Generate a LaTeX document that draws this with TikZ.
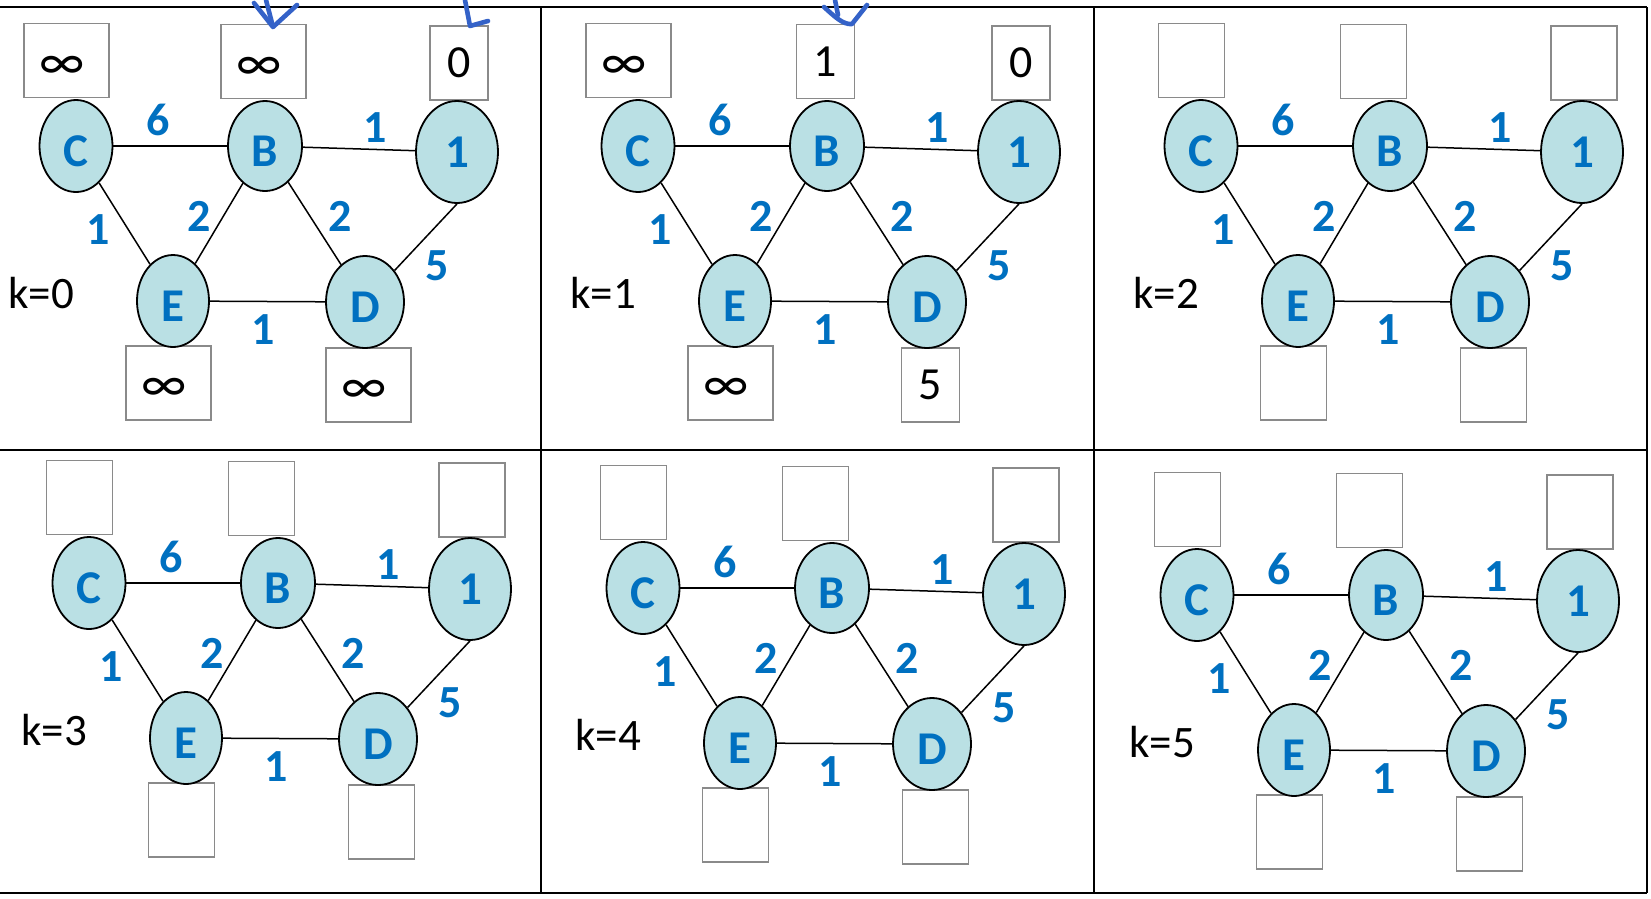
\documentclass[tikz,border=0pt]{standalone}
\usepackage{fontspec}
\setmainfont{Carlito}
\usetikzlibrary{shapes.geometric}

\definecolor{nodefill}{RGB}{186,224,228}
\definecolor{labelblue}{RGB}{0,112,192}
\definecolor{penblue}{RGB}{52,98,200}
\definecolor{boxgray}{RGB}{138,138,138}

\newcommand\infsym{{\fontsize{53}{53}\selectfont ∞}}

\tikzset{
  vert/.style={ellipse, draw=black, line width=1.8pt, fill=nodefill, inner sep=0pt,
    text=labelblue, font=\fontsize{47}{47}\selectfont\bfseries},
  lowtext/.style={text height=40pt, text depth=0pt},
  wt/.style={text=labelblue, font=\fontsize{46}{46}\selectfont\bfseries, inner sep=0pt},
  klabel/.style={font=\fontsize{45}{45}\selectfont, inner sep=0pt},
  valbox/.style={rectangle, draw=boxgray, line width=1.8pt, fill=white,
    minimum height=74pt, inner sep=0pt, font=\fontsize{46}{46}\selectfont},
  emptybox/.style={valbox, minimum width=66pt, node contents={}},
  infbox/.style={valbox, minimum width=85pt, text height=37pt, text depth=0pt,
    node contents={\hspace*{-8pt}\infsym}},
  digbox/.style={valbox, minimum width=58pt, node contents={#1}},
  link/.style={line width=1.5pt},
  panelline/.style={line width=2.5pt},
  pen/.style={draw=penblue, line width=4.6pt, line cap=round, line join=round},
}

% one graph panel: prefix, x offset, y offset, k, then the five value boxes (C, B, 1, E, D)
\newcommand\graphpanel[9]{%
  \begin{scope}[shift={(#2,#3)}]
    \node (#1bC) at (66.5,60.5) [#5];
    \node (#1bB) at (263.5,61.5) [#6];
    \node (#1bone) at (459,63) [#7];
    \node (#1bE) at (168.5,383) [#8];
    \node (#1bD) at (368.5,385) [#9];
    \node[vert, lowtext, minimum width=73pt, minimum height=92pt] (#1C) at (76,146) {C};
    \node[vert, lowtext, minimum width=74pt, minimum height=90pt] (#1B) at (265,146) {B};
    \node[vert, minimum width=82pt, minimum height=102pt] (#1one) at (457,152) {1};
    \node[vert, lowtext, minimum width=72pt, minimum height=92pt] (#1E) at (173,301) {E};
    \node[vert, lowtext, minimum width=78pt, minimum height=92pt] (#1D) at (365,302) {D};
    \draw[link] (#1C) -- (#1B);
    \draw[link] (#1B) -- (#1one);
    \draw[link] (#1C) -- (#1E);
    \draw[link] (#1E) -- (#1B);
    \draw[link] (#1B) -- (#1D);
    \draw[link] (#1E) -- (#1D);
    \draw[link] (#1one.south) -- (#1D);
    \node[wt] (#1wCB) at (158,120) {6};
    \node[wt] (#1wBone) at (375,128) {1};
    \node[wt] (#1wCE) at (98,230) {1};
    \node[wt] (#1wEB) at (199,216) {2};
    \node[wt] (#1wBD) at (340,216) {2};
    \node[wt] (#1wDone) at (437,266) {5};
    \node[wt] (#1wED) at (263,330) {1};
    \node[klabel] (#1k) at (41,293) {k=#4};
  \end{scope}}

\begin{document}
\begin{tikzpicture}[x=1pt, y=-1pt]
  \useasboundingbox (0,0) rectangle (1651,898);
  \fill[white] (0,0) rectangle (1651,898);

  % panel grid
  \draw[panelline] (0,7) -- (1647,7);
  \draw[panelline] (0,450) -- (1647,450);
  \draw[panelline] (0,893) -- (1647,893);
  \draw[panelline] (541,7) -- (541,893);
  \draw[panelline] (1094,7) -- (1094,893);
  \draw[panelline] (1647,7) -- (1647,893);

  \graphpanel{pa}{0}{0}{0}{infbox}{infbox}{digbox=0}{infbox}{infbox}
  \graphpanel{pb}{562}{0}{1}{infbox}{digbox=1}{digbox=0}{infbox}{digbox=5}
  \graphpanel{pc}{1125}{0}{2}{emptybox}{emptybox, xshift=-15pt}{emptybox}{emptybox}{emptybox}
  \graphpanel{pd}{13}{437}{3}{emptybox}{emptybox, xshift=-15pt}{emptybox}{emptybox}{emptybox}
  \graphpanel{pe}{567}{442}{4}{emptybox}{emptybox, xshift=-15pt}{emptybox}{emptybox}{emptybox}
  \graphpanel{pf}{1121}{449}{5}{emptybox}{emptybox, xshift=-15pt}{emptybox}{emptybox}{emptybox}

  % hand-drawn pen marks over the first two panels
  \draw[pen] (254,3) -- (273,27) -- (297,5);
  \draw[pen] (266,0) -- (272,23);
  \draw[pen] (465,0) -- (470,26) -- (488,21);
  \draw[pen] (835,0) -- (838,15);
  \draw[pen] (824,7) .. controls (834,16) and (843,25) .. (852,24) -- (867,5);
\end{tikzpicture}
\end{document}
